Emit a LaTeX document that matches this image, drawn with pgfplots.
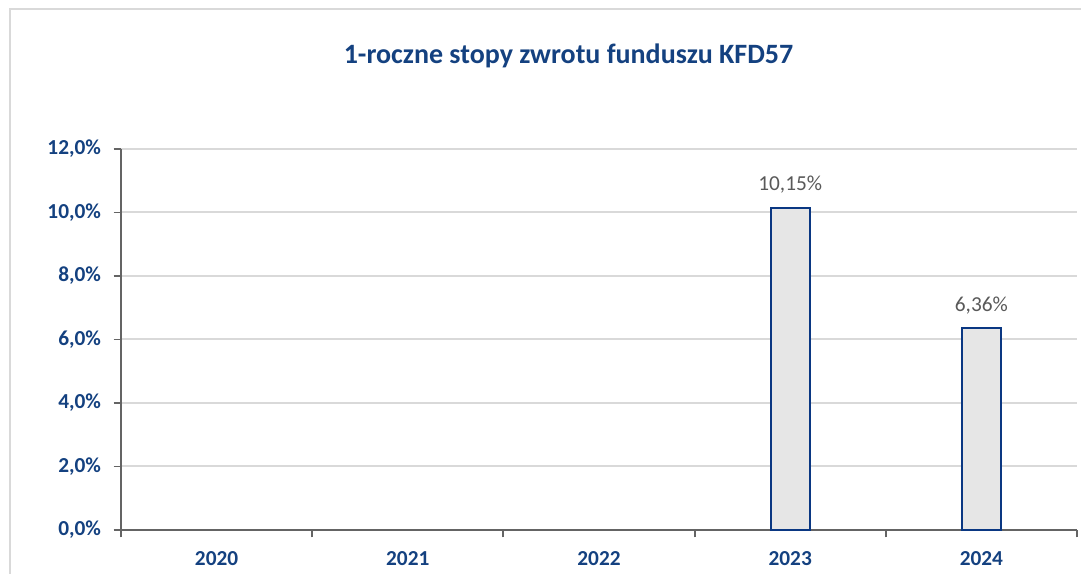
\documentclass[border=0pt]{standalone}
\usepackage{pgfplots}
\pgfplotsset{compat=1.18}
\usepackage{pgfplotstable}
\usepackage{fontspec}
\setmainfont{Carlito}
\definecolor{tblue}{RGB}{20,65,128}
\definecolor{barblue}{RGB}{10,55,130}
\definecolor{barfill}{RGB}{230,230,230}
\definecolor{gridg}{RGB}{217,217,217}
\definecolor{axg}{RGB}{100,100,100}
\definecolor{labg}{RGB}{89,89,89}
\pgfplotstableread{
x y lab
3 10.15 {10,15\%}
4 6.36 {6,36\%}
}\data
\begin{document}
\begin{tikzpicture}
\useasboundingbox (0,0) rectangle (810.75pt,430.5pt);
\draw[gridg, line width=1.6pt] (7.75pt,0) -- (7.75pt,423.75pt) -- (812pt,423.75pt);
\node[font=\fontsize{21pt}{24pt}\selectfont\bfseries, text=tblue] at (426.4pt,388.5pt) {1-roczne stopy zwrotu funduszu KFD57};
\begin{axis}[
  at={(90.75pt,33pt)}, anchor=south west,
  scale only axis, width=717pt, height=285.75pt,
  xmin=-0.5, xmax=4.5, ymin=0, ymax=12,
  axis x line*=bottom, axis y line*=left,
  axis line style={axg, line width=1.4pt, -},
  xtick={0,1,2,3,4},
  xticklabels={2020,2021,2022,2023,2024},
  major x tick style={draw=none},
  minor xtick={-0.5,0.5,1.5,2.5,3.5,4.5},
  minor tick length=5.5pt,
  minor x tick style={axg, line width=1.4pt},
  ytick={0,2,4,6,8,10,12},
  yticklabels={{0,0\%},{2,0\%},{4,0\%},{6,0\%},{8,0\%},{10,0\%},{12,0\%}},
  major tick length=5.5pt,
  tick align=outside,
  y tick style={axg, line width=1.4pt},
  ymajorgrids, grid style={gridg, line width=1.5pt},
  ticklabel style={font=\fontsize{16pt}{18pt}\selectfont\bfseries, text=tblue},
  xticklabel style={yshift=-7pt},
  yticklabel style={xshift=-6pt},
  clip=false,
]
\addplot[ybar, bar width=29.25pt, draw=barblue, fill=barfill, line width=1.6pt,
  point meta=explicit symbolic,
  nodes near coords, nodes near coords style={font=\fontsize{16pt}{18pt}\selectfont, text=labg, yshift=6.5pt}]
  table[x=x, y=y, meta=lab] {\data};
\end{axis}
\end{tikzpicture}
\end{document}
